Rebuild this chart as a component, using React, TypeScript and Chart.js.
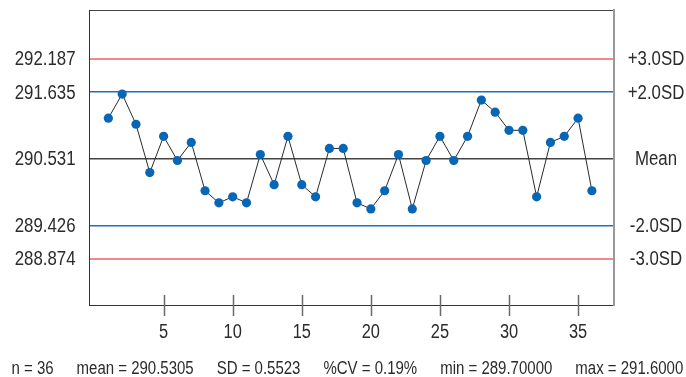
import React, { useEffect, useRef } from 'react';
import { Chart, registerables } from 'chart.js';

Chart.register(...registerables);

// ---- data ----
const runs = [1, 2, 3, 4, 5, 6, 7, 8, 9, 10, 11, 12, 13, 14, 15, 16, 17, 18, 19, 20, 21, 22, 23, 24, 25, 26, 27, 28, 29, 30, 31, 32, 33, 34, 35, 36];
const results = [
  291.2, 291.6, 291.1, 290.3, 290.9, 290.5, 290.8, 290.0, 289.8, 289.9,
  289.8, 290.6, 290.1, 290.9, 290.1, 289.9, 290.7, 290.7, 289.8, 289.7,
  290.0, 290.6, 289.7, 290.5, 290.9, 290.5, 290.9, 291.5, 291.3, 291.0,
  291.0, 289.9, 290.8, 290.9, 291.2, 290.0,
];
const limitValues = [288.874, 289.426, 290.531, 291.635, 292.187];
const limitLabels = ['-3.0SD', '-2.0SD', 'Mean', '+2.0SD', '+3.0SD'];
const xTickValues = [5, 10, 15, 20, 25, 30, 35];
const statsLabels = ['n = 36', 'mean = 290.5305', 'SD = 0.5523', '%CV = 0.19%', 'min = 289.70000', 'max = 291.6000'];

const FONT = "'Liberation Sans', Arial, sans-serif";
const TEXT = '#2b2b2b';
const NARROW = 0.82;

function limitColor(v: number): string {
  const i = limitValues.indexOf(v);
  if (i === 0 || i === 4) return '#f08a8a';
  if (i === 1 || i === 3) return '#1f6fc2';
  if (i === 2) return '#444444';
  return 'transparent';
}
function limitWidth(v: number): number {
  const i = limitValues.indexOf(v);
  if (i === 0 || i === 4) return 2;
  return 1.5;
}

function narrowText(ctx: CanvasRenderingContext2D, s: string, x: number, y: number): number {
  const w = ctx.measureText(s).width * NARROW;
  ctx.fillText(s, x, y, w);
  return w;
}

const extrasPlugin = {
  id: 'qcExtras',
  afterDraw(chart: any) {
    const ctx = chart.ctx as CanvasRenderingContext2D;
    const xs = chart.scales.x;
    const yl = chart.scales.y;
    const yr = chart.scales.yRight;
    const area = chart.chartArea;
    ctx.save();
    // crossing tick marks on the x axis
    ctx.strokeStyle = '#6a6a6a';
    ctx.lineWidth = 1.5;
    for (const t of xs.ticks) {
      const px = Math.round(xs.getPixelForValue(t.value)) + 0.5;
      ctx.beginPath();
      ctx.moveTo(px, area.bottom - 10);
      ctx.lineTo(px, area.bottom + 11);
      ctx.stroke();
    }
    ctx.fillStyle = TEXT;
    ctx.textBaseline = 'middle';
    // x tick labels
    ctx.font = `20px ${FONT}`;
    ctx.textAlign = 'center';
    for (const t of xs.ticks) {
      narrowText(ctx, String(t.value), xs.getPixelForValue(t.value), area.bottom + 27);
    }
    // left y labels (control values)
    ctx.font = `20.5px ${FONT}`;
    ctx.textAlign = 'right';
    for (const t of yl.ticks) {
      narrowText(ctx, Number(t.value).toFixed(3), area.left - 13.5, yl.getPixelForValue(t.value) + 1);
    }
    // right y labels (SD names)
    ctx.textAlign = 'center';
    for (const t of yr.ticks) {
      const i = limitValues.indexOf(Number(t.value));
      if (i >= 0) narrowText(ctx, limitLabels[i], area.right + 42, yr.getPixelForValue(t.value) + 1);
    }
    // summary statistics line
    ctx.font = `18.3px ${FONT}`;
    ctx.textAlign = 'left';
    let x = 11.5;
    const gap = 23;
    for (const s of statsLabels) {
      const w = narrowText(ctx, s, x, 368.5);
      x += w + gap;
    }
    ctx.restore();
  },
};

export default function App() {
  const ref = useRef<HTMLCanvasElement | null>(null);
  useEffect(() => {
    document.body.style.margin = '0';
    const canvas = ref.current;
    if (!canvas) return;
    const chart = new Chart(canvas, {
      type: 'line',
      data: {
        datasets: [
          {
            data: runs.map((r, i) => ({ x: r, y: results[i] })),
            borderColor: '#2a2a2a',
            borderWidth: 1,
            pointRadius: 4.6,
            pointHoverRadius: 4.6,
            pointBackgroundColor: '#0766b5',
            pointBorderWidth: 0,
            tension: 0,
          },
        ],
      },
      options: {
        animation: false,
        responsive: false,
        events: [],
        layout: { autoPadding: false, padding: { top: 10, left: 0, right: 0, bottom: 0 } },
        plugins: { legend: { display: false }, tooltip: { enabled: false } },
        scales: {
          x: {
            type: 'linear',
            position: 'bottom',
            min: -0.4,
            max: 37.6,
            afterBuildTicks: (s: any) => {
              s.ticks = xTickValues.map((v) => ({ value: v }));
            },
            afterFit: (s: any) => {
              s.height = 72;
            },
            grid: { display: false, drawTicks: false },
            border: { display: true, color: '#333333', width: 1 },
            ticks: { display: false },
          },
          xTop: {
            type: 'linear',
            position: 'top',
            min: -0.4,
            max: 37.6,
            afterFit: (s: any) => {
              s.height = 0;
            },
            grid: { display: false, drawTicks: false },
            border: { display: true, color: '#444444', width: 1 },
            ticks: { display: false },
          },
          y: {
            type: 'linear',
            position: 'left',
            min: 288.11,
            max: 292.99,
            afterBuildTicks: (s: any) => {
              s.ticks = limitValues.map((v) => ({ value: v }));
            },
            afterFit: (s: any) => {
              s.width = 89;
            },
            grid: {
              drawTicks: false,
              color: (c: any) => limitColor(c.tick ? c.tick.value : NaN),
              lineWidth: (c: any) => limitWidth(c.tick ? c.tick.value : NaN),
            },
            border: { display: true, color: '#333333', width: 1 },
            ticks: { display: false },
          },
          yRight: {
            type: 'linear',
            position: 'right',
            min: 288.11,
            max: 292.99,
            afterBuildTicks: (s: any) => {
              s.ticks = limitValues.map((v) => ({ value: v }));
            },
            afterFit: (s: any) => {
              s.width = 72;
            },
            grid: { display: false, drawTicks: false },
            border: { display: true, color: '#999999', width: 2 },
            ticks: { display: false },
          },
        },
      },
      plugins: [extrasPlugin],
    } as any);
    return () => chart.destroy();
  }, []);
  return (
    <div style={{ width: 686, height: 377, background: '#ffffff' }}>
      <canvas ref={ref} width={686} height={377} style={{ display: 'block' }} />
    </div>
  );
}
